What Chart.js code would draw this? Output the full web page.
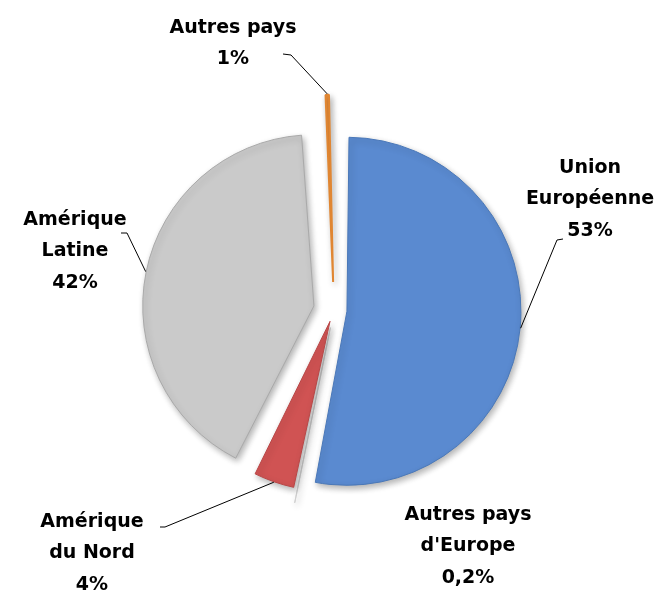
<!DOCTYPE html>
<html>
<head>
<meta charset="utf-8">
<script src="https://cdn.jsdelivr.net/npm/chart.js@4.4.1/dist/chart.umd.min.js"></script>
<style>
  html,body{margin:0;padding:0;background:#fff;}
  #wrap{width:657px;height:592px;}
</style>
</head>
<body>
<div id="wrap"><canvas id="chartPays" width="657" height="592"></canvas></div>
<script>
// ===== données (parts estimées sur l'image, étiquettes arrondies) =====
const regions = [["Union","Européenne"],["Autres pays","d'Europe"],["Amérique","du Nord"],["Amérique","Latine"],["Autres pays"]];
const parts = [53.1, 0.2, 4.1, 41.6, 1.0];
const partLabels = ["53%","0,2%","4%","42%","1%"];

// ===== style / mise en page =====
const colors = ["#5a8ad0","#e4e4e4","#d05353","#cacaca","#ea8f3a"];
const edges  = ["#4a78b8","#cfcfcf","#b84646","#a9a9a9","#e08632"];
const borders = [1, 1, 1, 1, 2];
const explode = [52, 72, 48, 82, 112];          // Chart.js décale de offset/4
const labelPos = [[590,168],[468,515],[92,522],[75,220],[233,28]];
const leaders = [[557,240,563,239],null,[165,527,160,527],[127,233,121,233],[291,55,283,54]];
const lineH = 31.5;

function edgePoint(arc, off, bw){
  const p = arc.getProps(["x","y","startAngle","endAngle","outerRadius"], true);
  const mid = (p.startAngle + p.endAngle)/2;
  const t = off/4;
  const fix = 1 - Math.sin(Math.min(Math.PI, p.endAngle - p.startAngle));
  const r = p.outerRadius + t*fix + bw/2;
  return [p.x + Math.cos(mid)*(t+r), p.y + Math.sin(mid)*(t+r)];
}

const shadowPlugin = {
  id:"ombre",
  beforeDatasetsDraw(chart){
    const c = chart.ctx; c.save();
    c.shadowColor = "rgba(0,0,0,0.3)"; c.shadowBlur = 6; c.shadowOffsetX = 2; c.shadowOffsetY = 3;
  },
  afterDatasetsDraw(chart){ chart.ctx.restore(); }
};

const labelPlugin = {
  id:"etiquettes",
  afterDraw(chart){
    const c = chart.ctx;
    const arcs = chart.getDatasetMeta(0).data;
    c.save();
    c.strokeStyle = "#000"; c.lineWidth = 1;
    leaders.forEach((l,i)=>{
      if(!l) return;
      const [px,py] = edgePoint(arcs[i], explode[i], borders[i]);
      c.beginPath(); c.moveTo(l[2],l[3]); c.lineTo(l[0],l[1]); c.lineTo(px,py); c.stroke();
    });
    c.fillStyle = "#000";
    c.font = "bold 19px 'DejaVu Sans'";
    c.textAlign = "center"; c.textBaseline = "middle";
    regions.forEach((lines,i)=>{
      const all = lines.concat([partLabels[i]]);
      all.forEach((s,k)=> c.fillText(s, labelPos[i][0], labelPos[i][1] + k*lineH));
    });
    c.restore();
  }
};

new Chart(document.getElementById("chartPays"),{
  type:"pie",
  data:{
    labels: regions.map(r=>r.join(" ")),
    datasets:[{
      data: parts,
      backgroundColor: colors,
      borderColor: edges,
      borderWidth: borders,
      offset: explode,
      hoverOffset: 0,
      clip: false
    }]
  },
  options:{
    responsive:false,
    animation:false,
    radius:161,
    layout:{padding:{left:11,top:28,right:0,bottom:0}},
    plugins:{legend:{display:false},tooltip:{enabled:false}},
    events:[]
  },
  plugins:[shadowPlugin,labelPlugin]
});
</script>
</body>
</html>
